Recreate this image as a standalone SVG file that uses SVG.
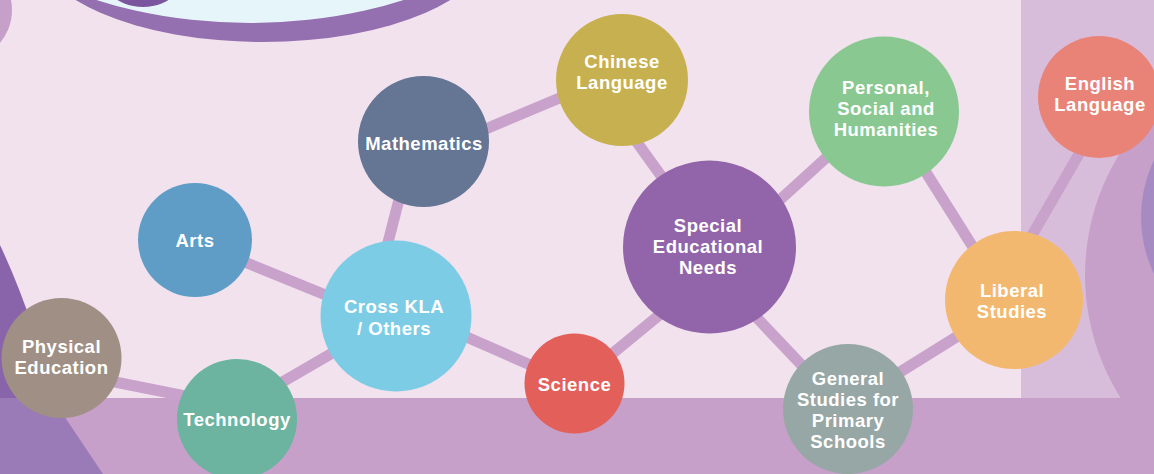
<svg xmlns="http://www.w3.org/2000/svg" width="1154" height="474" viewBox="0 0 1154 474">
<style>
.lbl{font-family:"Liberation Sans",Arial,sans-serif;font-weight:bold;font-size:18.5px;letter-spacing:0.5px;fill:#ffffff;text-anchor:middle}
.conn line{stroke:#c8a2cb;stroke-width:11}
</style>
<rect x="0" y="0" width="1154" height="474" fill="#f1e2ee"/>
<circle cx="-39" cy="10" r="51" fill="#c6a0c9"/>
<ellipse cx="263" cy="-58" rx="230" ry="100" fill="#9570b0"/>
<ellipse cx="250" cy="-140" rx="300" ry="163" fill="#e6f5fa"/>
<circle cx="143" cy="-43" r="50" fill="#7b559d"/>
<rect x="1021" y="0" width="133" height="398" fill="#d8bddb"/>
<circle cx="1315" cy="275" r="230" fill="#c6a0c9"/>
<circle cx="1272" cy="217" r="131" fill="#a68bc2"/>
<rect x="0" y="398" width="1154" height="76" fill="#c6a0c9"/>
<path d="M0,245 Q35,320 52,398 L0,398 Z" fill="#8a64ab"/>
<path d="M0,398 L52,398 L103,474 L0,474 Z" fill="#9a7bb7"/>
<g id="connectors" class="conn">
<line x1="80" y1="375" x2="215" y2="402"/>
<line x1="260" y1="395" x2="360" y2="337"/>
<line x1="220" y1="252" x2="360" y2="309"/>
<line x1="404" y1="180" x2="383" y2="262"/>
<line x1="430" y1="321" x2="560" y2="378"/>
<line x1="450" y1="144" x2="600" y2="81"/>
<line x1="613" y1="109" x2="690" y2="216"/>
<line x1="590" y1="372" x2="680" y2="298"/>
<line x1="760" y1="218" x2="860" y2="127"/>
<line x1="740" y1="300" x2="830" y2="395"/>
<line x1="910" y1="147" x2="1000" y2="290"/>
<line x1="860" y1="397" x2="990" y2="316"/>
<line x1="1020" y1="256" x2="1090" y2="135"/>
</g>
<g id="physical-education"><circle cx="61.5" cy="358" r="60" fill="#a08f85"/><text class="lbl" x="61.5" y="353">Physical</text><text class="lbl" x="61.5" y="374">Education</text></g>
<g id="technology"><circle cx="237" cy="419" r="60" fill="#6cb3a0"/><text class="lbl" x="237" y="426">Technology</text></g>
<g id="arts"><circle cx="195" cy="240" r="57" fill="#5f9dc7"/><text class="lbl" x="195" y="247">Arts</text></g>
<g id="cross-kla"><circle cx="396" cy="316" r="75.5" fill="#7dcce6"/><text class="lbl" x="394" y="313">Cross KLA</text><text class="lbl" x="394" y="335">/ Others</text></g>
<g id="mathematics"><circle cx="423.5" cy="141.5" r="65.5" fill="#657594"/><text class="lbl" x="424" y="150">Mathematics</text></g>
<g id="chinese-language"><circle cx="622" cy="80" r="66" fill="#c7b04f"/><text class="lbl" x="622" y="68">Chinese</text><text class="lbl" x="622" y="89">Language</text></g>
<g id="science"><circle cx="574.5" cy="383.5" r="50" fill="#e3605a"/><text class="lbl" x="574.5" y="391">Science</text></g>
<g id="special-educational-needs"><circle cx="709.5" cy="247" r="86.5" fill="#9264a9"/><text class="lbl" x="708" y="232">Special</text><text class="lbl" x="708" y="253">Educational</text><text class="lbl" x="708" y="274">Needs</text></g>
<g id="personal-social-humanities"><circle cx="884" cy="111.5" r="75" fill="#89c891"/><text class="lbl" x="886" y="94">Personal,</text><text class="lbl" x="886" y="115">Social and</text><text class="lbl" x="886" y="136">Humanities</text></g>
<g id="general-studies"><circle cx="848" cy="409" r="65" fill="#97a7a5"/><text class="lbl" x="848" y="385">General</text><text class="lbl" x="848" y="406">Studies for</text><text class="lbl" x="848" y="427">Primary</text><text class="lbl" x="848" y="448">Schools</text></g>
<g id="liberal-studies"><circle cx="1014" cy="300" r="69" fill="#f3b86f"/><text class="lbl" x="1012" y="297">Liberal</text><text class="lbl" x="1012" y="318">Studies</text></g>
<g id="english-language"><circle cx="1099" cy="97" r="61" fill="#e98378"/><text class="lbl" x="1100" y="90">English</text><text class="lbl" x="1100" y="111">Language</text></g>
</svg>
